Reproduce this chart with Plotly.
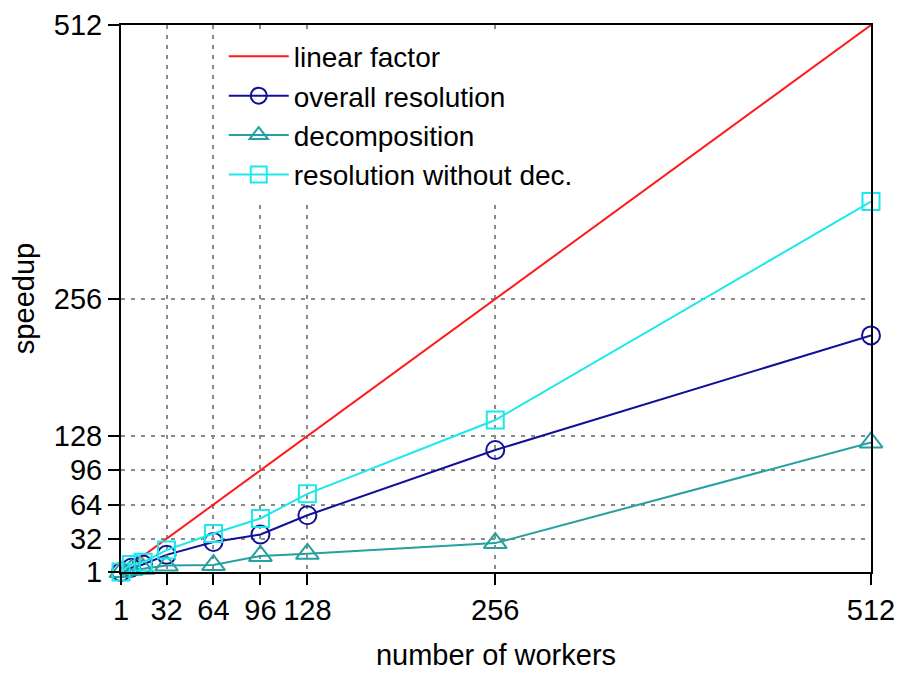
import plotly.graph_objects as go

workers = [1, 8, 16, 32, 64, 96, 128, 256, 512]
linear_factor = [1, 8, 16, 32, 64, 96, 128, 256, 512]
overall_resolution = [1, 5, 8, 17, 29, 36, 54, 115, 222]
decomposition = [1, 3, 4, 7, 7.5, 16, 18, 28, 122]
resolution_without_dec = [1, 8, 10, 21.5, 37, 51, 74, 143, 347]

tick_vals = [1, 32, 64, 96, 128, 256, 512]
tick_text = ["1", "32", "64", "96", "128", "256", "512"]

FONT = "Liberation Sans, Arial, sans-serif"

fig = go.Figure()
fig.add_trace(go.Scatter(x=workers, y=linear_factor, name="linear factor", mode="lines",
                         line=dict(color="#ff1a1a", width=2), cliponaxis=False))
fig.add_trace(go.Scatter(x=workers, y=overall_resolution, name="overall resolution", mode="lines+markers",
                         line=dict(color="#10109a", width=2),
                         marker=dict(symbol="circle-open", size=18, color="#10109a", line=dict(width=2)),
                         cliponaxis=False))
fig.add_trace(go.Scatter(x=workers, y=decomposition, name="decomposition", mode="lines+markers",
                         line=dict(color="#25a0a0", width=2),
                         marker=dict(symbol="triangle-up-open", size=20, color="#25a0a0", line=dict(width=2)),
                         cliponaxis=False))
fig.add_trace(go.Scatter(x=workers, y=resolution_without_dec, name="resolution without dec.", mode="lines+markers",
                         line=dict(color="#1ae8ea", width=2),
                         marker=dict(symbol="square-open", size=17, color="#1ae8ea", line=dict(width=2)),
                         cliponaxis=False))

axis_common = dict(
    tickmode="array", tickvals=tick_vals, ticktext=tick_text,
    showline=True, linecolor="black", linewidth=2, mirror=True,
    ticks="outside", ticklen=11, tickwidth=1.5, tickcolor="black",
    showgrid=True, gridcolor="#8a8a8a", gridwidth=2, griddash="4px,6px",
    zeroline=False, tickfont=dict(family=FONT, size=29, color="black"),
    title_font=dict(family=FONT, size=29, color="black"),
    automargin=False,
)

fig.update_xaxes(range=[1, 512], title_text="number of workers", title_standoff=20, **axis_common)
fig.update_yaxes(range=[1, 512], title_text="speedup", title_standoff=12, **axis_common)

fig.update_layout(
    width=894, height=665,
    margin=dict(l=113, r=31, t=17, b=101),
    paper_bgcolor="white", plot_bgcolor="white",
    font=dict(family=FONT, size=28, color="black"),
    legend=dict(x=0.137, y=0.988, xanchor="left", yanchor="top",
                bgcolor="white", borderwidth=0,
                font=dict(family=FONT, size=28, color="black"),
                tracegroupgap=0, itemwidth=60),
    showlegend=True,
)

fig.write_html("out.html")
